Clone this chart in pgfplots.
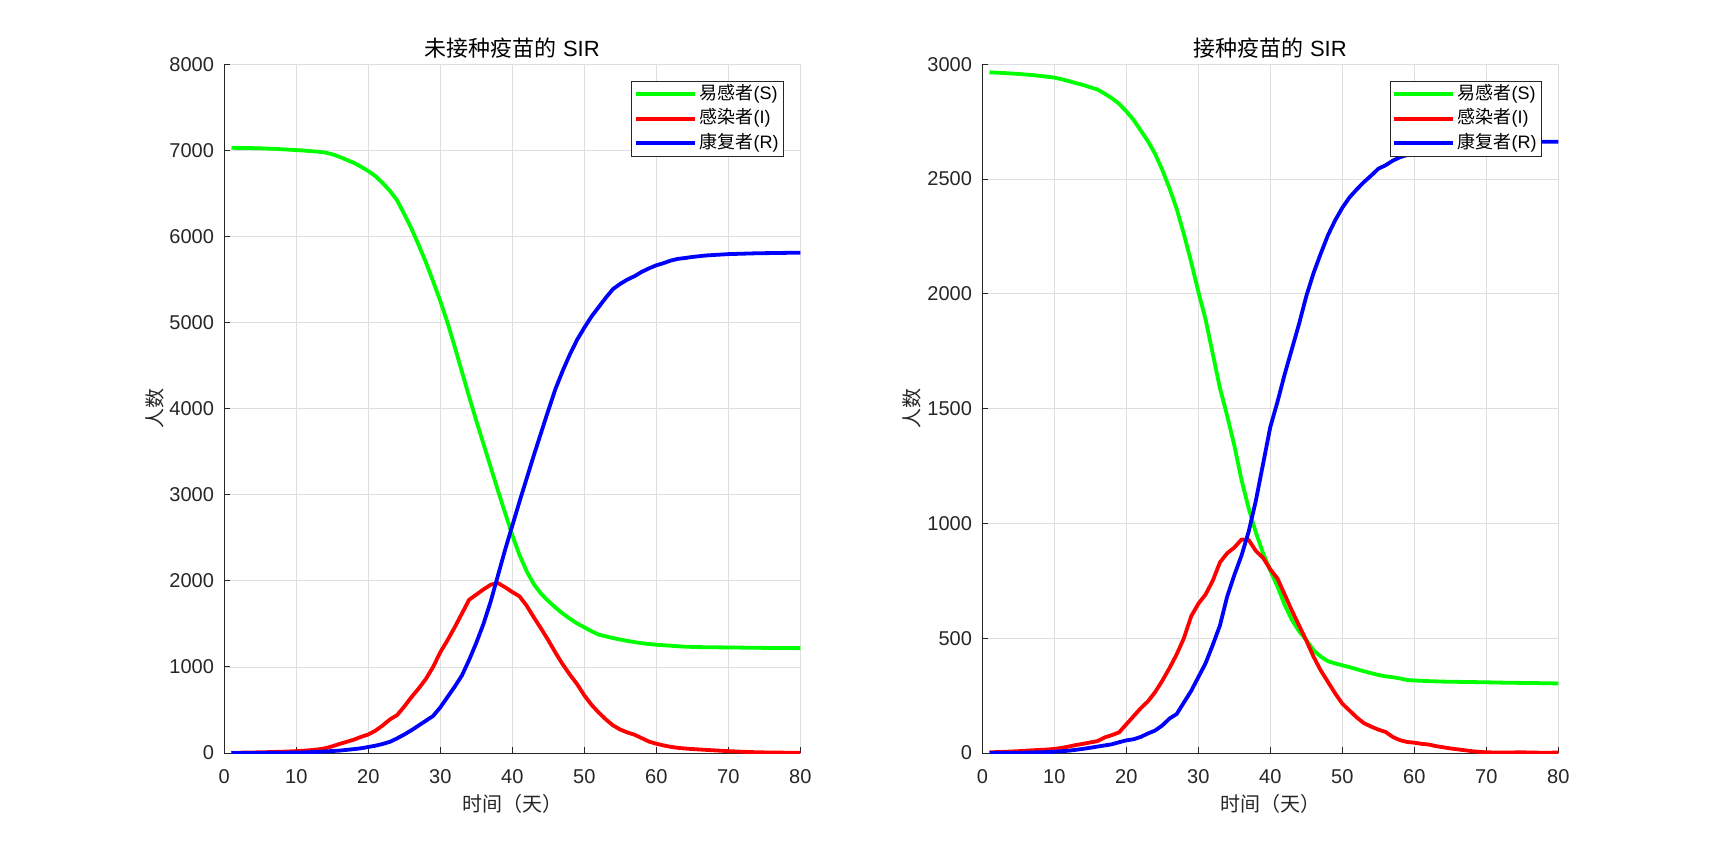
\documentclass[border=0pt]{standalone}
\usepackage{fontspec}
\setmainfont{Liberation Sans}
\newfontfamily\cjk{Noto Sans CJK SC}
\usepackage{pgfplots}
\pgfplotsset{compat=1.18}
\definecolor{axc}{gray}{0.15}
\definecolor{gridc}{gray}{0.87}
\pgfplotsset{
  sirstyle/.style={
    scale only axis, width=288pt, height=344.35pt,
    xmin=0, xmax=80, xtick={0,10,...,80},
    axis x line*=bottom, axis y line*=left,
    axis line style={-, draw=axc, line width=0.5pt},
    every outer x axis line/.append style={-},
    every outer y axis line/.append style={-},
    every inner x axis line/.append style={-},
    every inner y axis line/.append style={-},
    tick align=inside, major tick length=2.9pt,
    every tick/.style={draw=axc, line width=0.5pt},
    grid=major, major grid style={draw=gridc, line width=0.4pt},
    tick label style={font=\fontsize{10}{12}\selectfont, text=axc},
    /pgf/number format/assume math mode=true,
    /pgf/number format/1000 sep={},
    scaled y ticks=false,
    xticklabel style={anchor=center, inner sep=0pt, yshift=-11.8pt},
    yticklabel style={anchor=east, inner sep=0pt, xshift=-5pt},
    every axis title shift=0pt,
    title style={at={(axis description cs:0.5,1.024)}, anchor=center, yshift=0pt, font=\fontsize{11}{13}\selectfont, text=black},
    xlabel style={at={(axis description cs:0.5,-0.074)}, anchor=center, font=\fontsize{10}{12}\selectfont, text=axc},
    ylabel style={anchor=center, font=\fontsize{10}{12}\selectfont, text=axc},
    xlabel={{\cjk 时间（天）}},
    ylabel={{\cjk 人数}},
    legend image code/.code={\draw[#1] (0pt,0pt) -- (29.5pt,0pt);},
    legend style={at={(rel axis cs:1,1)}, anchor=north east, xshift=-8.25pt, yshift=-8.2pt,
      draw=axc, line width=0.45pt, fill=white, inner xsep=0.9pt, inner ysep=0.3pt,
      font=\fontsize{9}{10}\selectfont, text=black, row sep=0pt,
      nodes={text height=7pt, text depth=2pt, inner ysep=1.65pt, inner xsep=1.5pt}},
    legend cell align=left,
    every axis plot/.append style={line width=1.9pt, line join=round},
  }
}
\begin{document}
\begin{tikzpicture}
\path[use as bounding box] (0,0) rectangle (861pt,423.5pt);
\begin{axis}[sirstyle, at={(112.15pt,47pt)}, anchor=south west,
  ymin=0, ymax=8000, ytick={0,1000,...,8000},
  ylabel style={at={(axis description cs:-0.12,0.5)}},
  title={{\cjk 未接种疫苗的} SIR}]
\addplot[color=green] coordinates {(1,7030)(3,7028)(5,7024)(7,7018)(9,7008)(11,6998)(13,6985)(14,6975)(15,6955)(16,6925)(17,6890)(18,6855)(19,6810)(20,6760)(21,6700)(22,6620)(23,6530)(24,6420)(25,6260)(26,6090)(27,5900)(28,5700)(29,5480)(30,5250)(31,5000)(32,4720)(33,4430)(34,4140)(35,3860)(36,3590)(37,3320)(38,3050)(39,2790)(40,2530)(41,2300)(42,2110)(43,1960)(44,1850)(45,1765)(46,1690)(47,1620)(48,1560)(49,1505)(50,1460)(51,1415)(52,1375)(53,1355)(54,1335)(55,1318)(56,1302)(57,1288)(58,1275)(59,1266)(60,1258)(61,1252)(62,1246)(63,1240)(64,1235)(66,1230)(68,1228)(70,1226)(72,1224)(75,1221)(78,1219)(80,1218)};
\addlegendentry{{\cjk 易感者}(S)}
\addplot[color=red] coordinates {(1,2)(3,5)(5,8)(7,12)(9,18)(10,22)(11,27)(12,33)(13,42)(14,55)(15,78)(16,105)(17,130)(18,155)(19,188)(20,215)(21,260)(22,320)(23,390)(24,440)(25,540)(26,650)(27,750)(28,860)(29,1000)(30,1170)(31,1310)(32,1460)(33,1620)(34,1780)(35,1840)(36,1900)(37,1955)(38,1975)(39,1925)(40,1870)(41,1820)(42,1710)(43,1575)(44,1445)(45,1310)(46,1165)(47,1030)(48,910)(49,800)(50,670)(51,560)(52,470)(53,390)(54,320)(55,272)(56,238)(57,212)(58,172)(59,132)(60,108)(61,88)(62,72)(63,60)(64,52)(65,46)(67,36)(69,26)(71,18)(73,11)(75,7)(77,5)(80,1)};
\addlegendentry{{\cjk 感染者}(I)}
\addplot[color=blue] coordinates {(1,0)(5,1)(10,5)(12,10)(14,18)(16,28)(18,45)(19,55)(20,70)(21,85)(22,105)(23,130)(24,170)(25,215)(26,265)(27,320)(28,375)(29,430)(30,530)(31,650)(32,770)(33,900)(34,1080)(35,1280)(36,1500)(37,1760)(38,2060)(39,2360)(40,2640)(41,2920)(42,3190)(43,3460)(44,3720)(45,3980)(46,4230)(47,4440)(48,4630)(49,4800)(50,4940)(51,5070)(52,5180)(53,5290)(54,5390)(55,5450)(56,5500)(57,5540)(58,5590)(59,5630)(60,5665)(61,5690)(62,5720)(63,5740)(64,5750)(65,5762)(67,5780)(70,5795)(74,5805)(80,5812)};
\addlegendentry{{\cjk 康复者}(R)}
\end{axis}
\begin{axis}[sirstyle, at={(491.15pt,47pt)}, anchor=south west,
  ymin=0, ymax=3000, ytick={0,500,...,3000},
  ylabel style={at={(axis description cs:-0.123,0.5)}},
  title={{\cjk 接种疫苗的} SIR}]
\addplot[color=green] coordinates {(1,2965)(3,2962)(5,2958)(7,2953)(9,2946)(10,2942)(11,2935)(12,2927)(13,2918)(14,2910)(15,2900)(16,2890)(17,2872)(18,2852)(19,2828)(20,2795)(21,2758)(22,2712)(23,2665)(24,2610)(25,2540)(26,2460)(27,2370)(28,2260)(29,2140)(30,2010)(31,1890)(32,1740)(33,1590)(34,1470)(35,1340)(36,1190)(37,1065)(38,960)(39,870)(40,795)(41,725)(42,645)(43,580)(44,530)(45,492)(46,448)(47,420)(48,400)(49,390)(50,382)(51,374)(52,365)(53,356)(54,348)(55,340)(56,334)(57,330)(58,325)(59,318)(60,316)(62,313)(64,311)(66,310)(68,309)(70,308)(73,306)(76,305)(80,303)};
\addlegendentry{{\cjk 易感者}(S)}
\addplot[color=red] coordinates {(1,3)(3,5)(5,8)(7,12)(9,15)(10,18)(11,22)(12,28)(13,35)(14,40)(15,46)(16,52)(17,68)(18,78)(19,90)(20,125)(21,160)(22,195)(23,225)(24,265)(25,315)(26,370)(27,430)(28,500)(29,595)(30,650)(31,690)(32,750)(33,830)(34,870)(35,895)(36,930)(37,928)(38,880)(39,850)(40,800)(41,760)(42,690)(43,620)(44,555)(45,490)(46,420)(47,360)(48,310)(49,260)(50,215)(51,185)(52,155)(53,130)(54,115)(55,102)(56,92)(57,70)(58,56)(59,48)(60,45)(61,40)(62,37)(63,30)(64,25)(65,20)(66,16)(67,12)(68,8)(69,5)(70,3)(72,2)(75,3)(78,1)(80,2)};
\addlegendentry{{\cjk 感染者}(I)}
\addplot[color=blue] coordinates {(1,0)(5,1)(9,4)(12,10)(14,18)(16,28)(18,38)(19,47)(20,55)(21,60)(22,70)(23,85)(24,98)(25,120)(26,150)(27,170)(28,220)(29,270)(30,330)(31,390)(32,470)(33,555)(34,680)(35,775)(36,860)(37,965)(38,1100)(39,1260)(40,1420)(41,1530)(42,1650)(43,1760)(44,1870)(45,1990)(46,2090)(47,2175)(48,2255)(49,2320)(50,2375)(51,2420)(52,2455)(53,2487)(54,2515)(55,2545)(56,2560)(57,2580)(58,2595)(59,2605)(60,2615)(62,2630)(64,2645)(66,2652)(68,2657)(70,2660)(75,2662)(80,2663)};
\addlegendentry{{\cjk 康复者}(R)}
\end{axis}
\end{tikzpicture}
\end{document}
